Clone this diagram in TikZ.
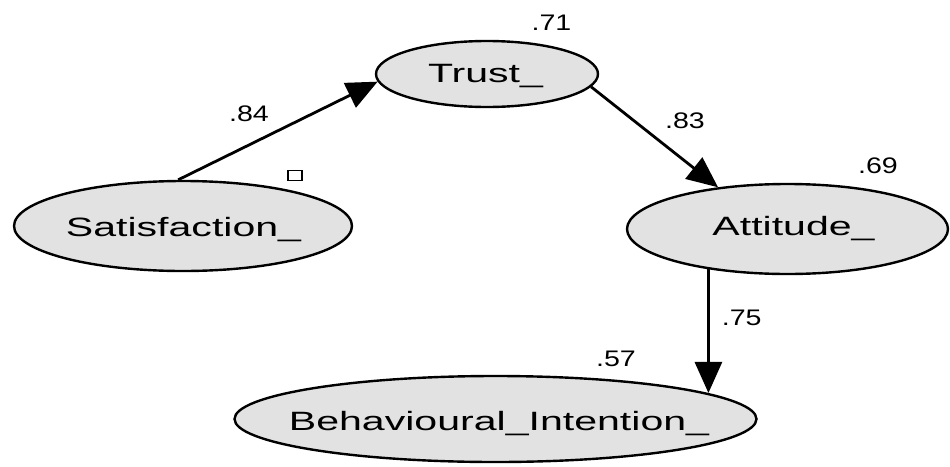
\documentclass[tikz,border=0pt]{standalone}
\usepackage{fontspec}
\setmainfont{Liberation Sans}
\usetikzlibrary{arrows.meta,shapes.geometric}
\definecolor{ellfill}{RGB}{226,226,226}
\newcommand{\lvtext}[3]{\makebox[0pt]{\hspace*{#1}\raisebox{#2}{\scalebox{1.55}[1]{#3}}}}
\begin{document}
\begin{tikzpicture}[x=1pt,y=-1pt,
  latent/.style={ellipse,draw=black,line width=2.4pt,fill=ellfill,inner sep=0pt,
    text height=19pt,text depth=0pt,font=\fontsize{26.5}{30}\selectfont},
  regpath/.style={line width=2.8pt,-{Triangle[length=31pt,width=27pt]}},
  coef/.style={inner sep=0pt,text height=16pt,text depth=0pt,font=\fontsize{22.5}{24}\selectfont}]
\useasboundingbox (0,0) rectangle (950,466);
\node[latent,minimum width=338pt,minimum height=90pt] (sat) at (183,226) {\lvtext{1pt}{-0.5pt}{Satisfaction\_}};
\node[latent,minimum width=222pt,minimum height=66pt] (trust) at (487,74) {\lvtext{-3pt}{1.5pt}{Trust\_}};
\node[latent,minimum width=321pt,minimum height=90pt] (att) at (787.5,229) {\lvtext{12pt}{3.5pt}{Attitude\_}};
\node[latent,minimum width=522pt,minimum height=86pt] (beh) at (495.5,419) {\lvtext{7pt}{-2pt}{Behavioural\_Intention\_}};
\node[draw,line width=1.1pt,minimum width=14pt,minimum height=9.5pt,inner sep=0pt] (sq) at (295,175.5) {};
\draw[regpath] (sat.96) -- (trust.184);
\draw[regpath] (trust.-7) -- (att.149);
\draw[regpath] (att.207) -- (att.207 |- beh.7);
\node[coef] (c84) at (249,113.5) {\scalebox{1.27}[1]{.84}};
\node[coef] (c71) at (551.5,22.5) {\scalebox{1.27}[1]{.71}};
\node[coef] (c83) at (685,120) {\scalebox{1.27}[1]{.83}};
\node[coef] (c69) at (878,165) {\scalebox{1.27}[1]{.69}};
\node[coef] (c75) at (741.7,317) {\scalebox{1.27}[1]{.75}};
\node[coef] (c57) at (616,358.5) {\scalebox{1.27}[1]{.57}};
\end{tikzpicture}
\end{document}
